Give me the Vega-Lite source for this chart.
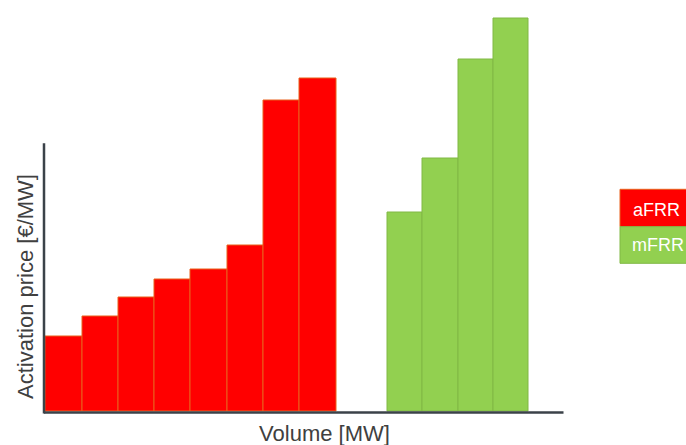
{
  "$schema": "https://vega.github.io/schema/vega-lite/v6.json",
  "width": 642,
  "height": 400,
  "autosize": "none",
  "padding": {"left": 44, "top": 11, "right": 0, "bottom": 34},
  "background": "white",
  "config": {"view": {"stroke": null}, "font": "Liberation Sans"},
  "datasets": {
    "bars": [
      {"series": "aFRR", "start": 1, "end": 38, "price": 75},
      {"series": "aFRR", "start": 38, "end": 74, "price": 95},
      {"series": "aFRR", "start": 74, "end": 110, "price": 114},
      {"series": "aFRR", "start": 110, "end": 146, "price": 132},
      {"series": "aFRR", "start": 146, "end": 183, "price": 142},
      {"series": "aFRR", "start": 183, "end": 219, "price": 166},
      {"series": "aFRR", "start": 219, "end": 255, "price": 311},
      {"series": "aFRR", "start": 255, "end": 292, "price": 333},
      {"series": "mFRR", "start": 343, "end": 378, "price": 199},
      {"series": "mFRR", "start": 378, "end": 414, "price": 253},
      {"series": "mFRR", "start": 414, "end": 449, "price": 352},
      {"series": "mFRR", "start": 449, "end": 484, "price": 393}
    ],
    "axes": [
      {"x": 0, "x2": 519.5, "y": -1.5, "y2": -1.5},
      {"x": 0, "x2": 0, "y": -2.5, "y2": 267.7}
    ],
    "legend": [
      {"series": "aFRR", "lo": 576, "hi": 645, "top": 221.7, "bottom": 184.3, "tx": 589, "ty": 195},
      {"series": "mFRR", "lo": 576, "hi": 645, "top": 184.3, "bottom": 147.7, "tx": 588, "ty": 160}
    ]
  },
  "layer": [
    {
      "data": {"name": "bars"},
      "mark": {"type": "rect", "strokeWidth": 1},
      "encoding": {
        "x": {
          "field": "start", "type": "quantitative",
          "scale": {"domain": [0, 642], "nice": false, "zero": false},
          "axis": {"domain": false, "ticks": false, "labels": false, "grid": false,
                   "title": "Volume [MW]", "titleFontSize": 22, "titleFontWeight": "normal",
                   "titleColor": "#404040", "titleX": 280, "titleY": 29,
                   "titleAlign": "center", "titleBaseline": "alphabetic"}
        },
        "x2": {"field": "end"},
        "y": {
          "field": "price", "type": "quantitative",
          "scale": {"domain": [0, 400], "nice": false},
          "axis": {"domain": false, "ticks": false, "labels": false, "grid": false,
                   "title": "Activation price [€/MW]", "titleFontSize": 22, "titleFontWeight": "normal",
                   "titleColor": "#404040", "titleX": -12, "titleY": 275, "titleAngle": -90,
                   "titleAlign": "center", "titleBaseline": "alphabetic"}
        },
        "y2": {"datum": 0},
        "color": {"field": "series", "type": "nominal",
                  "scale": {"domain": ["aFRR", "mFRR"], "range": ["#FF0000", "#92D050"]}, "legend": null},
        "stroke": {"field": "series", "type": "nominal",
                   "scale": {"domain": ["aFRR", "mFRR"], "range": ["#E8601C", "#80B845"]}, "legend": null}
      }
    },
    {
      "data": {"name": "axes"},
      "mark": {"type": "rule", "color": "#3B4249", "strokeWidth": 2.5},
      "encoding": {
        "x": {"field": "x", "type": "quantitative"},
        "x2": {"field": "x2"},
        "y": {"field": "y", "type": "quantitative"},
        "y2": {"field": "y2"}
      }
    },
    {
      "data": {"name": "legend"},
      "mark": {"type": "rect", "strokeWidth": 1},
      "encoding": {
        "x": {"field": "lo", "type": "quantitative"},
        "x2": {"field": "hi"},
        "y": {"field": "top", "type": "quantitative"},
        "y2": {"field": "bottom"},
        "color": {"field": "series", "type": "nominal", "legend": null},
        "stroke": {"field": "series", "type": "nominal", "legend": null}
      }
    },
    {
      "data": {"name": "legend"},
      "mark": {"type": "text", "align": "left", "baseline": "alphabetic", "fontSize": 18, "color": "white"},
      "encoding": {
        "x": {"field": "tx", "type": "quantitative"},
        "y": {"field": "ty", "type": "quantitative"},
        "text": {"field": "series"}
      }
    }
  ]
}
